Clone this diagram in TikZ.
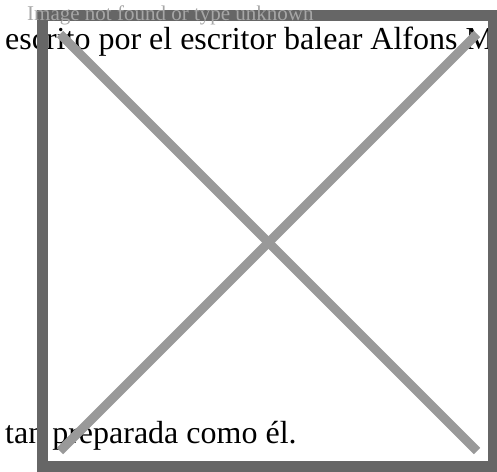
\documentclass[tikz,border=0pt]{standalone}
\usepackage{fontspec}
\setmainfont{Liberation Serif}
\definecolor{marco}{HTML}{666666}
\definecolor{cruz}{HTML}{999999}
\definecolor{aviso}{HTML}{A6A6A6}
\begin{document}
\begin{tikzpicture}[x=1pt,y=-1pt]
  \tikzstyle{texto}=[anchor=base west, inner sep=0pt, text=black,
  font=\fontsize{32}{38}\selectfont]
  \tikzstyle{borde}=[draw=marco, line width=11pt]
  \tikzstyle{aspa}=[draw=cruz, line width=9pt]
  \useasboundingbox (0,0) rectangle (497,471);
  \clip (0,0) rectangle (497,471);
  \node[texto] (arriba) at (5,49.5) {escrito por el escritor balear Alfons M};
  \node[texto] (abajo) at (5,443) {tan preparada como él.};
  \draw[borde] (42.5,15.5) rectangle (493,466);
  \foreach \a/\b in {60/477,477/60} {
    \draw[aspa] (\a,34) -- (\b,451);
  }
  \node[anchor=base west, inner sep=0pt, text=aviso,
  font=\fontsize{21}{25}\selectfont] (aviso) at (27,20) {Image not found or type unknown};
\end{tikzpicture}
\end{document}
